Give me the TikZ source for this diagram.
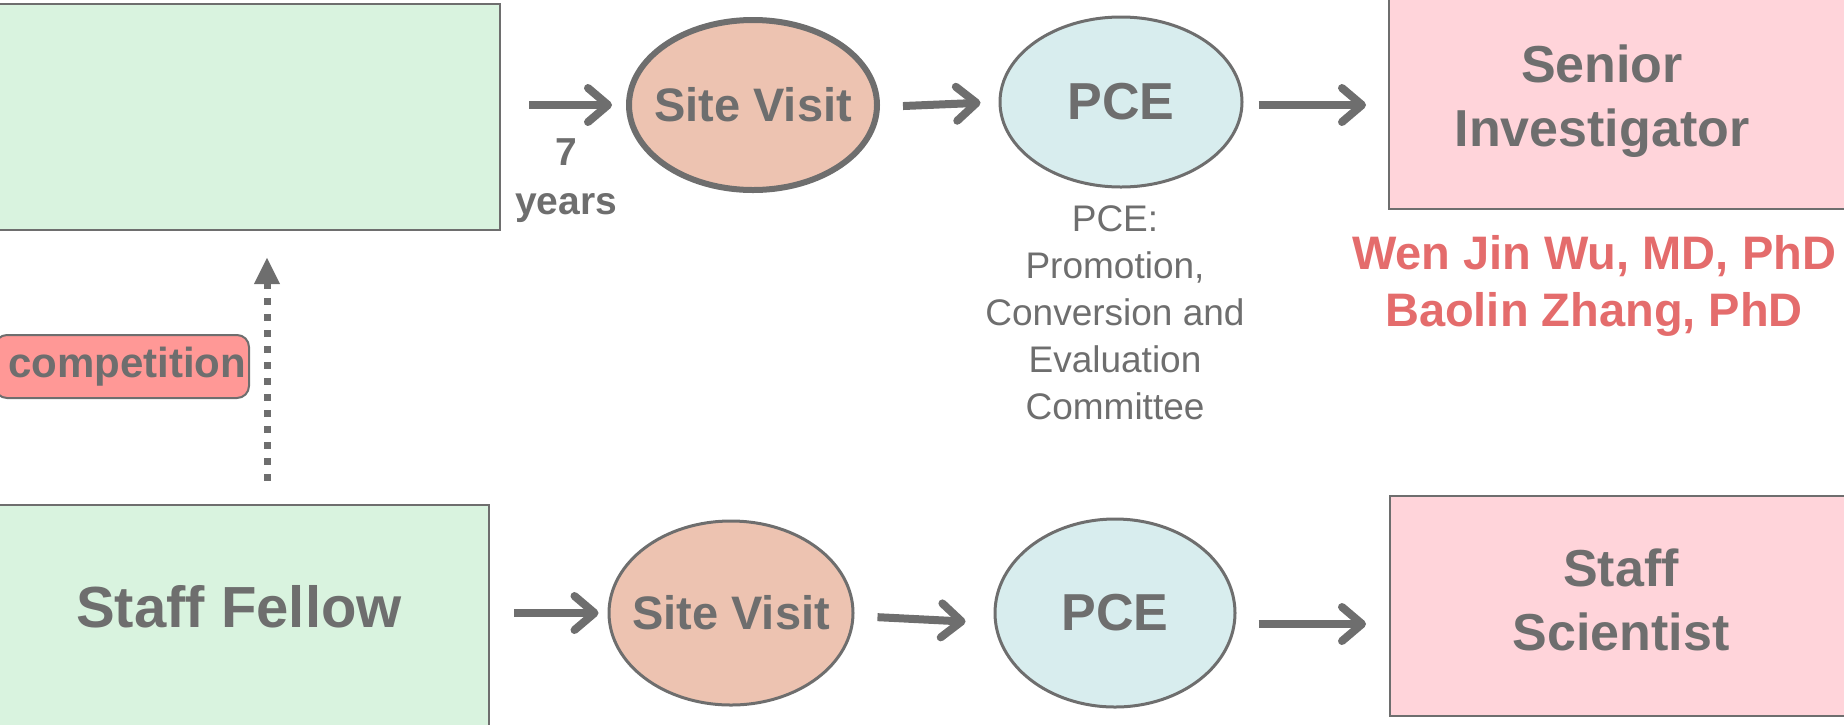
\documentclass[tikz,border=0pt]{standalone}
\usepackage{fontspec}
\setmainfont{Liberation Sans}
\usetikzlibrary{shapes.geometric,arrows.meta}
\definecolor{gr}{HTML}{6E6E6E}
\definecolor{greenfill}{HTML}{D9F3DF}
\definecolor{salmon}{HTML}{EDC3B1}
\definecolor{cyanfill}{HTML}{D8EDEE}
\definecolor{pinkfill}{HTML}{FFD4DA}
\definecolor{compfill}{HTML}{FF9896}
\definecolor{redtext}{HTML}{E46C6C}
\tikzset{
  boxnode/.style={draw=gr, line width=2pt, inner sep=0pt},
  ellnode/.style={ellipse, draw=gr, line width=3pt, inner sep=0pt},
  svlbl/.style={text=gr, inner sep=0pt, font=\bfseries\fontsize{47}{56}\selectfont},
  pcelbl/.style={text=gr, inner sep=0pt, font=\bfseries\fontsize{52}{60}\selectfont},
  arr/.style={draw=gr, line width=8pt, -{Straight Barb[length=20pt,width=34pt,round]}},
  dotarr/.style={draw=gr, line width=7pt, dash pattern=on 7pt off 9pt, -{Triangle[length=27pt,width=24pt]}},
  bigtext/.style={text=gr, align=center, inner sep=0pt, font=\bfseries\fontsize{52}{64}\selectfont}
}
\begin{document}
\begin{tikzpicture}[x=1pt,y=-1pt]
\useasboundingbox (0,0) rectangle (1844,724);
% boxes
\node[boxnode, fill=greenfill, minimum width=510pt, minimum height=226pt] (tl) at (245,117) {};
\node[boxnode, fill=pinkfill, minimum width=471pt, minimum height=229pt] (si) at (1624.5,94.5) {};
\node[bigtext] (sitxt) at (1602,101) {Senior\\Investigator};
\node[boxnode, fill=greenfill, minimum width=499pt, minimum height=235pt] (sf) at (239.5,622.5) {};
\node[bigtext, font=\bfseries\fontsize{58}{70}\selectfont] (sftxt) at (239,607) {Staff Fellow};
\node[boxnode, fill=pinkfill, minimum width=470pt, minimum height=220pt] (ss) at (1625,606) {};
\node[bigtext] (sstxt) at (1621,600) {Staff\\Scientist};
% ellipses
\node[ellnode, line width=6pt, fill=salmon, minimum width=248pt, minimum height=170pt, label={[svlbl]center:Site Visit}] (sv1) at (753,105) {};
\node[ellnode, fill=cyanfill, minimum width=242pt, minimum height=170pt, label={[pcelbl]center:PCE}] (pce1) at (1121,102) {};
\node[ellnode, fill=salmon, minimum width=244pt, minimum height=184pt, label={[svlbl]center:Site Visit}] (sv2) at (731,613) {};
\node[ellnode, fill=cyanfill, minimum width=240pt, minimum height=188pt, label={[pcelbl]center:PCE}] (pce2) at (1115,613) {};
% labels
\node[text=gr, align=center, inner sep=0pt, font=\bfseries\fontsize{39}{49}\selectfont] (yrs) at (566,181) {7\\years};
\node[text=gr, align=center, inner sep=0pt, font=\fontsize{37}{47}\selectfont] (pcedesc) at (1115,313) {PCE:\\Promotion,\\Conversion and\\Evaluation\\Committee};
\node[text=redtext, align=center, inner sep=0pt, font=\bfseries\fontsize{47}{57}\selectfont] (names) at (1594,285.5) {Wen Jin Wu, MD, PhD\\Baolin Zhang, PhD};
\node[draw=gr, line width=2pt, fill=compfill, rounded corners=12pt, minimum width=254pt, minimum height=63pt, inner sep=0pt, text=gr, font=\bfseries\fontsize{42}{50}\selectfont] (comp) at (122,366.5) {\hspace*{10pt}competition};
% top arrows
\draw[arr, shorten <=28pt, shorten >=14pt] (tl.east |- sv1.west) -- (sv1.west);
\draw[arr, shorten <=23pt, shorten >=18pt] ([yshift=-2pt]sv1.east) -- (pce1.west);
\coordinate (a3s) at ([yshift=-3pt]pce1.east);
\draw[arr, shorten <=15pt, shorten >=22pt] (a3s) -- (a3s -| si.west);
% bottom arrows
\draw[arr, shorten <=24pt, shorten >=9pt] (sf.east |- sv2.west) -- (sv2.west);
\draw[arr, shorten <=23pt, shorten >=28pt] ([yshift=-3pt]sv2.east) -- ([yshift=-10pt]pce2.west);
\coordinate (b3s) at ([yshift=-11pt]pce2.east);
\draw[arr, shorten <=22pt, shorten >=23pt] (b3s) -- (b3s -| ss.west);
% dotted arrow
\coordinate (d0) at ([xshift=27.5pt]sf.north);
\draw[dotarr, shorten <=23pt, shorten >=26pt] (d0) -- (d0 |- tl.south);
\end{tikzpicture}
\end{document}
